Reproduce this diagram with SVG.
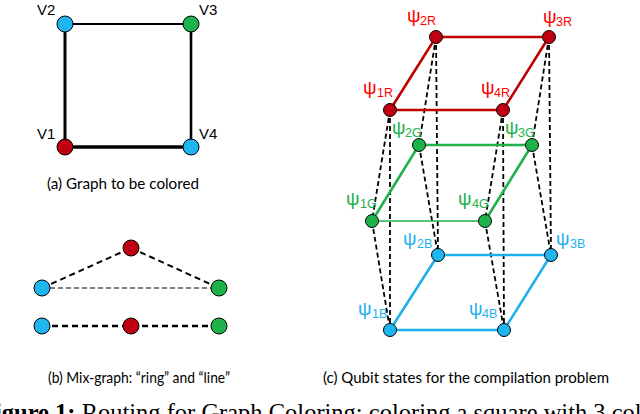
<svg xmlns="http://www.w3.org/2000/svg" width="640" height="414" viewBox="0 0 640 414">
<style>
.bg{fill:#ffffff}
.nd{stroke:#000;stroke-width:1}
.red{fill:#C00010}
.grn{fill:#1DB34A}
.blu{fill:#1FB5F0}
.vl{font-family:"Liberation Sans",Arial,sans-serif;font-size:15px;fill:#000}
.cap{font-family:Lato,"Liberation Sans",sans-serif;font-size:15px;fill:#000}
.fig{font-family:"Liberation Serif","Times New Roman",serif;font-size:24.5px;fill:#000}
.psi{font-family:"Liberation Sans",Arial,sans-serif;font-size:19px}
.sub{font-family:"Liberation Sans",Arial,sans-serif;font-size:12.5px}
.lr{fill:#FF0000}
.lg{fill:#21B14B}
.lb{fill:#1FB0EF}
.dash{stroke:#000;stroke-width:1.8;stroke-dasharray:5 3;fill:none}
</style>
<rect class="bg" x="0" y="0" width="640" height="414"/>

<!-- Panel (a) -->
<g id="connectors-a" stroke="#000" fill="none">
<line x1="65" y1="24" x2="191" y2="24" stroke-width="2"/>
<line x1="65" y1="24" x2="65" y2="147" stroke-width="3"/>
<line x1="191" y1="24" x2="191" y2="147" stroke-width="2.6"/>
<line x1="65" y1="147" x2="191" y2="147" stroke-width="3.4"/>
</g>
<g id="V2"><circle class="nd blu" cx="65" cy="24" r="8"/><text class="vl" x="37" y="15">V2</text></g>
<g id="V3"><circle class="nd grn" cx="191" cy="24" r="8"/><text class="vl" x="199" y="15">V3</text></g>
<g id="V1"><circle class="nd red" cx="65" cy="147" r="8"/><text class="vl" x="37" y="139">V1</text></g>
<g id="V4"><circle class="nd blu" cx="191" cy="147" r="8"/><text class="vl" x="199" y="139">V4</text></g>
<text class="cap" x="47" y="189" textLength="152" lengthAdjust="spacingAndGlyphs">(a) Graph to be colored</text>

<!-- Panel (b) -->
<g id="connectors-b" stroke="#000" fill="none">
<line x1="42" y1="288" x2="131" y2="248" stroke-width="2" stroke-dasharray="6 4"/>
<line x1="131" y1="248" x2="219" y2="288" stroke-width="2" stroke-dasharray="6 4"/>
<line x1="42" y1="288" x2="219" y2="288" stroke-width="1.2" stroke-dasharray="5 3"/>
<line x1="42" y1="326" x2="219" y2="326" stroke-width="2.4" stroke-dasharray="6 4"/>
</g>
<g id="ring-red"><circle class="nd red" cx="131" cy="248" r="8"/></g>
<g id="ring-blue"><circle class="nd blu" cx="42" cy="288" r="8"/></g>
<g id="ring-green"><circle class="nd grn" cx="219" cy="288" r="8"/></g>
<g id="line-blue"><circle class="nd blu" cx="42" cy="326" r="8"/></g>
<g id="line-red"><circle class="nd red" cx="131" cy="326" r="8"/></g>
<g id="line-green"><circle class="nd grn" cx="219" cy="326" r="8"/></g>
<text class="cap" x="48" y="383" textLength="182" lengthAdjust="spacingAndGlyphs">(b) Mix-graph: “ring” and “line”</text>

<!-- Panel (c) -->
<g id="connectors-c">
<g class="dash">
<line x1="390" y1="110" x2="372" y2="221"/>
<line x1="390" y1="110" x2="390" y2="330"/>
<line x1="372" y1="221" x2="390" y2="330"/>
<line x1="436" y1="37" x2="419" y2="145"/>
<line x1="436" y1="37" x2="438" y2="255"/>
<line x1="419" y1="145" x2="438" y2="255"/>
<line x1="549" y1="37" x2="532" y2="145"/>
<line x1="549" y1="37" x2="551" y2="255"/>
<line x1="532" y1="145" x2="551" y2="255"/>
<line x1="503" y1="110" x2="485" y2="221"/>
<line x1="503" y1="110" x2="504" y2="330"/>
<line x1="485" y1="221" x2="504" y2="330"/>
</g>
<g stroke="#1FAFEA" stroke-width="2.6" fill="none">
<polygon points="438,255 551,255 504,330 390,330"/>
</g>
<g stroke="#21B14B" fill="none">
<polyline points="372,221 419,145 532,145 485,221" stroke-width="2.6"/>
<line x1="372" y1="221" x2="485" y2="221" stroke-width="1.6"/>
</g>
<g stroke="#C00000" stroke-width="2.6" fill="none">
<polygon points="436,37 549,37 503,110 390,110"/>
</g>
</g>

<g id="psi1R"><circle class="nd red" cx="390" cy="110" r="6.5"/><text class="psi lr" x="363" y="94">ψ</text><text class="sub lr" x="377" y="97">1R</text></g>
<g id="psi2R"><circle class="nd red" cx="436" cy="37" r="6.5"/><text class="psi lr" x="407" y="22">ψ</text><text class="sub lr" x="420" y="25">2R</text></g>
<g id="psi3R"><circle class="nd red" cx="549" cy="37" r="6.5"/><text class="psi lr" x="543" y="23">ψ</text><text class="sub lr" x="556" y="26">3R</text></g>
<g id="psi4R"><circle class="nd red" cx="503" cy="110" r="6.5"/><text class="psi lr" x="481" y="94">ψ</text><text class="sub lr" x="494" y="97">4R</text></g>

<g id="psi1G"><circle class="nd grn" cx="372" cy="221" r="6.5"/><text class="psi lg" x="346" y="205">ψ</text><text class="sub lg" x="360" y="208">1G</text></g>
<g id="psi2G"><circle class="nd grn" cx="419" cy="145" r="6.5"/><text class="psi lg" x="392" y="134">ψ</text><text class="sub lg" x="405" y="137">2G</text></g>
<g id="psi3G"><circle class="nd grn" cx="532" cy="145" r="6.5"/><text class="psi lg" x="505" y="134">ψ</text><text class="sub lg" x="518" y="137">3G</text></g>
<g id="psi4G"><circle class="nd grn" cx="485" cy="221" r="6.5"/><text class="psi lg" x="458" y="205">ψ</text><text class="sub lg" x="472" y="208">4G</text></g>

<g id="psi1B"><circle class="nd blu" cx="390" cy="330" r="6.5"/><text class="psi lb" x="358" y="315">ψ</text><text class="sub lb" x="372" y="318">1B</text></g>
<g id="psi2B"><circle class="nd blu" cx="438" cy="255" r="6.5"/><text class="psi lb" x="403" y="245">ψ</text><text class="sub lb" x="417" y="248">2B</text></g>
<g id="psi3B"><circle class="nd blu" cx="551" cy="255" r="6.5"/><text class="psi lb" x="556" y="245">ψ</text><text class="sub lb" x="570" y="248">3B</text></g>
<g id="psi4B"><circle class="nd blu" cx="504" cy="330" r="6.5"/><text class="psi lb" x="469" y="315">ψ</text><text class="sub lb" x="482" y="318">4B</text></g>

<text class="cap" x="323" y="383" textLength="286" lengthAdjust="spacingAndGlyphs">(c) Qubit states for the compilation problem</text>

<text class="fig" x="-20" y="421"><tspan font-weight="bold">Figure 1:</tspan> Routing for Graph Coloring: coloring a square with 3 col</text>
</svg>
